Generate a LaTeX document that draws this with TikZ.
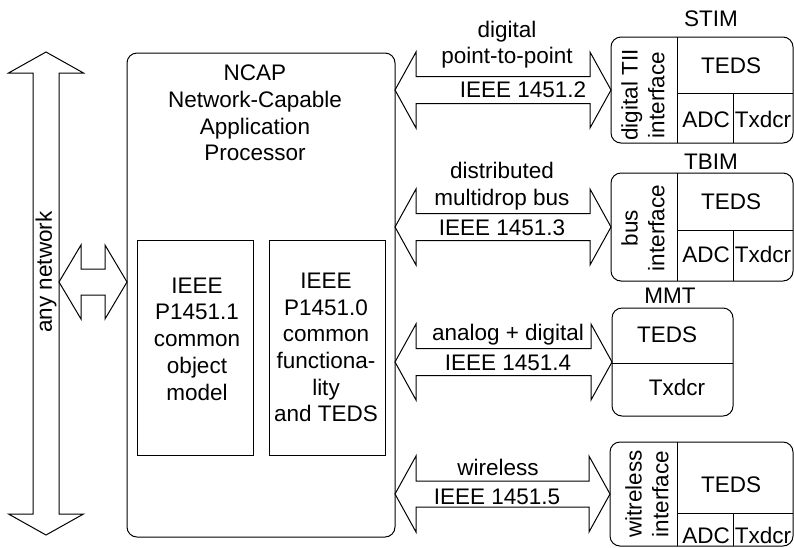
\documentclass[tikz,border=0pt]{standalone}
\usepackage{fontspec}
\setmainfont{Liberation Sans}
\usetikzlibrary{calc}
\newcommand\hfat[5]{% left point, right point, head length, head half width, shaft half width
  \draw[fatarrow] let \p1=#1, \p2=#2 in
    (\x1,\y1) -- (\x1+#3pt,\y1+#4pt) -- (\x1+#3pt,\y1+#5pt) -- (\x2-#3pt,\y1+#5pt)
    -- (\x2-#3pt,\y1+#4pt) -- (\x2,\y1) -- (\x2-#3pt,\y1-#4pt) -- (\x2-#3pt,\y1-#5pt)
    -- (\x1+#3pt,\y1-#5pt) -- (\x1+#3pt,\y1-#4pt) -- cycle;}
\newcommand\vfat[5]{% top point, bottom point, head length, head half width, shaft half width
  \draw[fatarrow] let \p1=#1, \p2=#2 in
    (\x1,\y1) -- (\x1+#4pt,\y1-#3pt) -- (\x1+#5pt,\y1-#3pt) -- (\x1+#5pt,\y2+#3pt)
    -- (\x1+#4pt,\y2+#3pt) -- (\x1,\y2) -- (\x1-#4pt,\y2+#3pt) -- (\x1-#5pt,\y2+#3pt)
    -- (\x1-#5pt,\y1-#3pt) -- (\x1-#4pt,\y1-#3pt) -- cycle;}
\begin{document}
\begin{tikzpicture}[x=1pt,y=-1pt,line width=1pt,
  every node/.style={font=\fontsize{22.5}{26.7}\selectfont, inner sep=0pt, outer sep=0pt},
  fatarrow/.style={draw, line width=1pt, line join=miter},
  lbl/.style={text height=16.4pt, text depth=4.7pt},
  rot/.style={rotate=90, align=center},
  modbox/.style={draw, rounded corners=10pt},
  plainbox/.style={draw},
  divider/.style={draw, line width=1pt}]
\useasboundingbox (0,0) rectangle (794,547);

% NCAP
\node[modbox, minimum width=268pt, minimum height=484pt] (ncap) at (261,295) {};
\node[align=center] (ncaplbl) at (255,113) {NCAP\\Network-Capable\\Application\\Processor};
\node[plainbox, minimum width=116pt, minimum height=215pt] (p11) at (195,347.5) {};
\node[align=center] (p11lbl) at (197,339) {IEEE\\P1451.1\\common\\object\\model};
\node[plainbox, minimum width=116pt, minimum height=215pt] (p10) at (327,347.5) {};
\node[align=center] (p10lbl) at (326,347.5) {IEEE\\P1451.0\\common\\functiona-\\lity\\and TEDS};

% network
\coordinate (nettop) at (46,52);
\coordinate (netbot) at (46,535);
\vfat{(nettop)}{(netbot)}{21}{37.5}{13}
\node[lbl, rotate=90] (netlbl) at (46,272) {any network};
\coordinate (netlink) at (59,282);
\hfat{(netlink)}{(ncap.west |- netlink)}{22}{37}{13}

% STIM
\node[modbox, minimum width=182pt, minimum height=106pt] (stim) at (702,90) {};
\draw[divider] (stim.north west) ++(66,0) coordinate (s1) -- (s1 |- stim.south);
\draw[divider] (s1) ++(0,56) coordinate (s2) -- (s2 -| stim.east);
\draw[divider] (s2) ++(56,0) coordinate (s3) -- (s3 |- stim.south);
\node[lbl] (stimlbl) at (711,21) {STIM};
\node[rot] (stimif) at (643,95) {digital TII\\interface};
\node[lbl] (stimteds) at (731,68) {TEDS};
\node[lbl] (stimadc) at (706,122) {ADC};
\node[lbl] (stimtx) at (763,122) {Txdcr};

% TBIM
\node[modbox, minimum width=182pt, minimum height=108pt] (tbim) at (702,227) {};
\draw[divider] (tbim.north west) ++(66,0) coordinate (t1) -- (t1 |- tbim.south);
\draw[divider] (t1) ++(0,57) coordinate (t2) -- (t2 -| tbim.east);
\draw[divider] (t2) ++(56,0) coordinate (t3) -- (t3 |- tbim.south);
\node[lbl] (tbimlbl) at (711,164) {TBIM};
\node[rot] (tbimif) at (643,228) {bus\\interface};
\node[lbl] (tbimteds) at (731,204) {TEDS};
\node[lbl] (tbimadc) at (706,257) {ADC};
\node[lbl] (tbimtx) at (763,257) {Txdcr};

% MMT
\node[modbox, minimum width=121pt, minimum height=108pt] (mmt) at (672.5,362) {};
\draw[divider] (mmt.north west) ++(0,55) coordinate (m1) -- (m1 -| mmt.east);
\node[lbl] (mmtlbl) at (670,298) {MMT};
\node[lbl] (mmtteds) at (667,337) {TEDS};
\node[lbl] (mmttx) at (677,390) {Txdcr};

% wireless
\node[modbox, minimum width=183pt, minimum height=104pt] (wtim) at (701.5,494) {};
\draw[divider] (wtim.north west) ++(67,0) coordinate (w1) -- (w1 |- wtim.south);
\draw[divider] (w1) ++(0,71) coordinate (w2) -- (w2 -| wtim.east);
\draw[divider] (w2) ++(56,0) coordinate (w3) -- (w3 |- wtim.south);
\node[rot] (wtimif) at (647,494) {witreless\\interface};
\node[lbl] (wtimteds) at (731,487) {TEDS};
\node[lbl] (wtimadc) at (706,538) {ADC};
\node[lbl] (wtimtx) at (763,538) {Txdcr};

% links
\hfat{(ncap.east |- stim.west)}{(stim.west)}{21}{38}{13.5}
\hfat{(ncap.east |- tbim.west)}{(tbim.west)}{21}{38}{13.5}
\hfat{(ncap.east |- mmt.west)}{(mmt.west)}{21}{38}{13.5}
\hfat{(ncap.east |- wtim.west)}{(wtim.west)}{21}{38}{13}

\node[lbl] (l1a) at (507,32) {digital};
\node[lbl] (l1b) at (507,58) {point-to-point};
\node[lbl] (l1c) at (523,92) {IEEE 1451.2};
\node[lbl] (l2a) at (502,173) {distributed};
\node[lbl] (l2b) at (502,200) {multidrop bus};
\node[lbl] (l2c) at (502,230) {IEEE 1451.3};
\node[lbl] (l3a) at (508,335) {analog + digital};
\node[lbl] (l3b) at (508,365) {IEEE 1451.4};
\node[lbl] (l4a) at (498,470) {wireless};
\node[lbl] (l4b) at (497,499) {IEEE 1451.5};
\end{tikzpicture}
\end{document}
